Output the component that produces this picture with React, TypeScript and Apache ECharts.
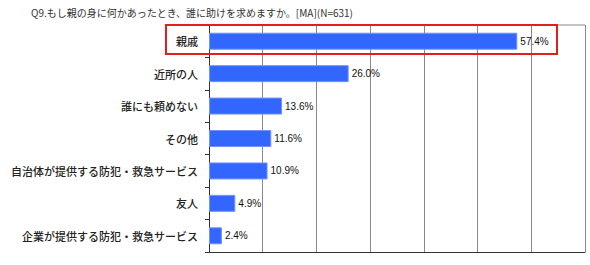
import React, { useEffect, useRef } from "react";
import * as echarts from "echarts";

const title = "Q9.もし親の身に何かあったとき、誰に助けを求めますか。[MA](N=631)";
const categories = [
  "親戚",
  "近所の人",
  "誰にも頼めない",
  "その他",
  "自治体が提供する防犯・救急サービス",
  "友人",
  "企業が提供する防犯・救急サービス",
];
const values = [57.4, 26.0, 13.6, 11.6, 10.9, 4.9, 2.4];

export default function App() {
  const ref = useRef<HTMLDivElement>(null);
  useEffect(() => {
    document.body.style.margin = "0";
    const chart = echarts.init(ref.current!, null, { renderer: "svg" });
    chart.setOption({
      animation: false,
      backgroundColor: "#ffffff",
      title: {
        text: title,
        left: 26,
        top: 2,
        textStyle: {
          fontSize: 10,
          fontWeight: "normal",
          color: "#333",
          fontFamily: "'Noto Sans CJK JP', sans-serif",
        },
      },
      grid: { left: 209, top: 25, width: 376, height: 227 },
      xAxis: {
        type: "value",
        min: 0,
        max: 70,
        interval: 10,
        axisLabel: { show: false },
        axisTick: { show: false },
        axisLine: { show: true, lineStyle: { color: "#333", width: 1 } },
        splitLine: { show: true, lineStyle: { color: "#888", width: 1 } },
      },
      yAxis: {
        type: "category",
        data: categories,
        inverse: true,
        axisLine: { show: true, lineStyle: { color: "#333", width: 1 } },
        axisTick: { show: true, length: 4, lineStyle: { color: "#333" } },
        axisLabel: {
          margin: 11,
          fontSize: 11,
          color: "#222",
          fontFamily: "'Noto Sans CJK JP', sans-serif",
          fontWeight: 500,
        },
      },
      series: [
        {
          type: "bar",
          data: values,
          barWidth: 17,
          itemStyle: { color: "#3366ff", borderColor: "#6f94ff", borderWidth: 1 },
          label: {
            show: true,
            position: "right",
            distance: 3,
            formatter: (p: any) => p.value.toFixed(1) + "%",
            fontSize: 10,
            color: "#111",
            fontFamily: "'Liberation Sans', Arial, sans-serif",
          },
        },
      ],
      graphic: [
        {
          type: "line",
          shape: { x1: 209, y1: 25, x2: 585, y2: 25 },
          style: { stroke: "#888", lineWidth: 1 },
        },
        {
          type: "rect",
          shape: { x: 166, y: 25, width: 391, height: 29 },
          style: { fill: "none", stroke: "#e02020", lineWidth: 2 },
          z: 10,
        },
      ],
    });
    return () => chart.dispose();
  }, []);
  return <div ref={ref} style={{ width: 590, height: 265 }} />;
}
